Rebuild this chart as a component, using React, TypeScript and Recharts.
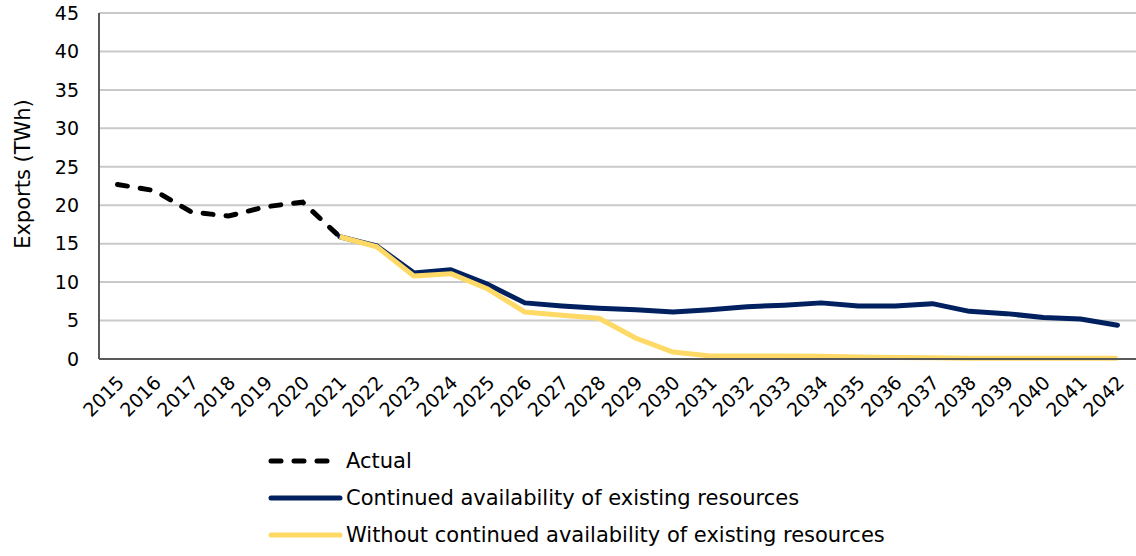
import { LineChart, Line, XAxis, YAxis, CartesianGrid } from 'recharts'

const years = [
  '2015', '2016', '2017', '2018', '2019', '2020', '2021', '2022', '2023', '2024',
  '2025', '2026', '2027', '2028', '2029', '2030', '2031', '2032', '2033', '2034',
  '2035', '2036', '2037', '2038', '2039', '2040', '2041', '2042',
]

const actual = [22.7, 21.9, 19.1, 18.6, 19.8, 20.4, 15.9]

const continued = [
  15.9, 14.7, 11.2, 11.6, 9.7, 7.3, 6.9, 6.6, 6.4, 6.1, 6.4, 6.8, 7.0, 7.3, 6.9,
  6.9, 7.2, 6.2, 5.9, 5.4, 5.2, 4.4,
]

const without = [
  15.9, 14.6, 10.8, 11.1, 9.1, 6.1, 5.7, 5.3, 2.7, 0.9, 0.4, 0.4, 0.4, 0.35, 0.25,
  0.2, 0.15, 0.1, 0.1, 0.1, 0.1, 0.1,
]

const yTicks = [0, 5, 10, 15, 20, 25, 30, 35, 40, 45]

const data = years.map((year, i) => ({
  year,
  actual: i < actual.length ? actual[i] : null,
  continued: i >= 6 ? continued[i - 6] : null,
  without: i >= 6 ? without[i - 6] : null,
}))

const FONT = 'Tahoma, "DejaVu Sans", sans-serif'

const legendItems = [
  { label: 'Actual', color: '#000000', dash: '10 13' },
  { label: 'Continued availability of existing resources', color: '#002060', dash: undefined },
  { label: 'Without continued availability of existing resources', color: '#FFD966', dash: undefined },
]

function YearTick({ x, y, payload }: any) {
  const tx = x + 4
  const ty = y + 13
  return (
    <text
      x={tx}
      y={ty}
      transform={`rotate(-45, ${tx}, ${ty})`}
      textAnchor="end"
      dominantBaseline="middle"
      fontSize={19}
      fill="#000"
      fontFamily={FONT}
    >
      {payload.value}
    </text>
  )
}

export default function App() {
  return (
    <div style={{ position: 'relative', width: 1136, height: 556, background: '#fff', fontFamily: FONT }}>
      <style>{'body{margin:0}'}</style>
      <LineChart width={1136} height={556} data={data} margin={{ top: 13, right: 0, left: 0, bottom: 0 }}>
        <CartesianGrid vertical={false} stroke="#c9c9c9" strokeWidth={2} />
        <XAxis
          dataKey="year"
          height={197}
          interval={0}
          padding={{ left: 18.5, right: 18.5 }}
          tickLine={false}
          axisLine={{ stroke: '#595959', strokeWidth: 2 }}
          tick={<YearTick />}
        />
        <YAxis
          width={99}
          domain={[0, 45]}
          ticks={yTicks}
          interval={0}
          tickLine={false}
          axisLine={{ stroke: '#595959', strokeWidth: 2 }}
          tick={{ fontSize: 19, fill: '#000', fontFamily: FONT }}
          tickMargin={14}
          label={(props: any) => (
            <text
              x={24}
              y={174}
              transform="rotate(-90, 24, 174)"
              textAnchor="middle"
              dominantBaseline="middle"
              fontSize={21}
              fill="#000"
              fontFamily={FONT}
            >
              Exports (TWh)
            </text>
          )}
        />
        <Line
          dataKey="continued"
          stroke="#002060"
          strokeWidth={5}
          dot={false}
          strokeLinejoin="round"
          strokeLinecap="round"
          isAnimationActive={false}
        />
        <Line
          dataKey="without"
          stroke="#FFD966"
          strokeWidth={5}
          dot={false}
          strokeLinejoin="round"
          isAnimationActive={false}
        />
        <Line
          dataKey="actual"
          stroke="#000000"
          strokeWidth={5}
          strokeDasharray="10 13"
          strokeLinecap="round"
          dot={false}
          isAnimationActive={false}
        />
      </LineChart>
      <div style={{ position: 'absolute', left: 268, top: 442 }}>
        {legendItems.map((item) => (
          <div key={item.label} style={{ display: 'flex', alignItems: 'center', height: 37 }}>
            <svg width={76} height={10} style={{ marginRight: 2 }}>
              <line
                x1={3}
                y1={5}
                x2={72}
                y2={5}
                stroke={item.color}
                strokeWidth={5}
                strokeDasharray={item.dash}
                strokeLinecap="round"
              />
            </svg>
            <span style={{ fontSize: 21, color: '#000', whiteSpace: 'nowrap' }}>{item.label}</span>
          </div>
        ))}
      </div>
    </div>
  )
}
